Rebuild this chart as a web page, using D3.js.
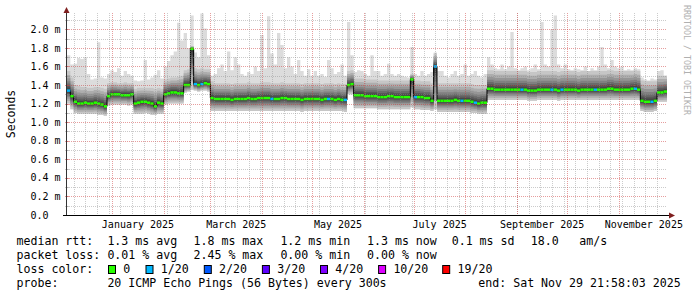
<!DOCTYPE html>
<html>
<head>
<meta charset="utf-8">
<script src="https://cdn.jsdelivr.net/npm/d3@7"></script>
<style>
  body { margin: 0; background: #fff; }
  text { font-family: "DejaVu Sans Mono", monospace; }
</style>
</head>
<body>
<svg id="chart" width="697" height="297"></svg>
<script>
// graph window: last 360 days, one value every 2 days
const endTime = new Date(2025, 10, 29, 21, 58, 3);
const spanDays = 360;
const stepDays = 2;

// median rtt per step (ms)
const medianMs = [
  1.34,1.28,1.22,1.20,1.20,1.21,1.20,1.20,1.21,1.20,
  1.19,1.17,1.28,1.30,1.30,1.30,1.29,1.29,1.29,1.30,
  1.20,1.21,1.22,1.22,1.21,1.20,1.17,1.21,1.20,1.30,
  1.31,1.32,1.32,1.31,1.31,1.40,1.40,1.79,1.41,1.40,
  1.41,1.42,1.41,1.26,1.25,1.25,1.25,1.25,1.25,1.24,
  1.25,1.25,1.25,1.25,1.26,1.25,1.25,1.26,1.26,1.26,
  1.26,1.25,1.25,1.25,1.26,1.26,1.25,1.25,1.25,1.25,
  1.24,1.25,1.25,1.25,1.25,1.25,1.24,1.25,1.25,1.25,
  1.24,1.25,1.24,1.24,1.40,1.41,1.29,1.29,1.29,1.28,
  1.28,1.28,1.28,1.27,1.27,1.27,1.28,1.28,1.27,1.27,
  1.27,1.27,1.27,1.46,1.27,1.27,1.27,1.26,1.26,1.23,
  1.60,1.23,1.23,1.23,1.23,1.23,1.24,1.23,1.23,1.23,
  1.23,1.22,1.21,1.20,1.21,1.21,1.36,1.36,1.35,1.35,
  1.35,1.35,1.35,1.35,1.35,1.35,1.35,1.35,1.34,1.34,
  1.34,1.35,1.35,1.35,1.35,1.35,1.35,1.34,1.35,1.35,
  1.35,1.35,1.35,1.34,1.35,1.35,1.35,1.35,1.35,1.35,
  1.35,1.35,1.36,1.36,1.35,1.35,1.35,1.35,1.35,1.36,
  1.36,1.35,1.23,1.22,1.22,1.22,1.23,1.32,1.32,1.33
];

// lower edge of the smoke (ms)
const smokeLowMs = [
  1.20,1.14,1.10,1.09,1.09,1.09,1.09,1.09,1.09,1.08,
  1.08,1.07,1.18,1.19,1.19,1.19,1.19,1.19,1.18,1.19,
  1.09,1.09,1.09,1.10,1.09,1.08,1.08,1.09,1.09,1.19,
  1.20,1.20,1.20,1.20,1.20,1.32,1.33,1.35,1.34,1.33,
  1.34,1.34,1.33,1.12,1.12,1.12,1.12,1.12,1.12,1.12,
  1.12,1.12,1.12,1.12,1.12,1.12,1.12,1.12,1.12,1.12,
  1.12,1.12,1.12,1.12,1.12,1.12,1.12,1.12,1.12,1.12,
  1.11,1.12,1.12,1.12,1.12,1.12,1.12,1.12,1.12,1.12,
  1.12,1.12,1.12,1.11,1.30,1.30,1.15,1.15,1.15,1.15,
  1.15,1.15,1.15,1.14,1.14,1.14,1.14,1.14,1.14,1.14,
  1.14,1.14,1.14,1.16,1.14,1.14,1.13,1.13,1.13,1.12,
  1.14,1.11,1.11,1.11,1.11,1.11,1.11,1.11,1.11,1.11,
  1.11,1.10,1.10,1.09,1.09,1.09,1.24,1.24,1.24,1.24,
  1.24,1.24,1.24,1.24,1.24,1.24,1.24,1.24,1.23,1.23,
  1.23,1.24,1.24,1.24,1.24,1.24,1.24,1.23,1.24,1.24,
  1.24,1.24,1.24,1.24,1.24,1.24,1.24,1.24,1.24,1.24,
  1.24,1.24,1.24,1.24,1.24,1.24,1.24,1.24,1.24,1.24,
  1.24,1.24,1.12,1.11,1.11,1.11,1.12,1.22,1.22,1.22
];

// upper edge of the dense smoke (ms)
const smokeHighMs = [
  1.55,1.48,1.40,1.39,1.38,1.38,1.37,1.37,1.38,1.38,
  1.37,1.36,1.42,1.43,1.43,1.42,1.42,1.43,1.42,1.42,
  1.36,1.37,1.37,1.37,1.37,1.37,1.36,1.37,1.36,1.46,
  1.47,1.48,1.48,1.49,1.50,1.56,1.57,1.82,1.58,1.57,
  1.58,1.57,1.57,1.44,1.42,1.42,1.42,1.42,1.42,1.41,
  1.42,1.42,1.42,1.42,1.43,1.42,1.42,1.42,1.43,1.43,
  1.43,1.42,1.42,1.42,1.43,1.42,1.42,1.42,1.42,1.42,
  1.41,1.42,1.42,1.42,1.42,1.42,1.41,1.42,1.42,1.42,
  1.41,1.42,1.41,1.41,1.55,1.56,1.47,1.47,1.47,1.46,
  1.46,1.46,1.46,1.45,1.45,1.45,1.45,1.45,1.45,1.45,
  1.45,1.45,1.45,1.52,1.45,1.45,1.44,1.44,1.44,1.42,
  1.74,1.42,1.42,1.42,1.42,1.42,1.42,1.42,1.42,1.42,
  1.42,1.41,1.40,1.40,1.40,1.40,1.56,1.56,1.55,1.55,
  1.55,1.55,1.55,1.55,1.55,1.55,1.55,1.55,1.54,1.54,
  1.54,1.55,1.55,1.55,1.55,1.55,1.55,1.54,1.55,1.55,
  1.55,1.55,1.55,1.54,1.55,1.55,1.55,1.55,1.55,1.55,
  1.55,1.55,1.56,1.56,1.55,1.55,1.55,1.55,1.55,1.55,
  1.56,1.55,1.45,1.44,1.44,1.44,1.44,1.50,1.50,1.50
];

// slowest ping per step (ms)
const maxPingMs = [
  1.72,1.62,1.63,1.69,1.68,1.70,1.52,1.46,1.47,1.86,
  1.48,1.47,1.52,1.56,1.54,1.58,1.50,1.55,1.52,1.50,
  1.45,1.44,1.45,1.67,1.46,1.48,1.51,1.56,1.47,1.60,
  1.66,1.72,1.76,2.07,1.88,1.96,1.80,2.15,1.75,1.70,
  2.17,2.01,1.72,1.50,1.52,1.58,1.62,1.55,1.76,1.56,
  1.70,1.62,1.52,1.50,1.54,1.52,1.60,1.55,1.94,1.58,
  2.14,1.74,1.62,1.96,1.83,1.58,1.70,1.60,1.52,1.67,
  1.55,1.50,1.57,1.50,1.55,1.50,1.52,1.49,1.67,1.58,
  1.52,1.54,1.62,1.50,2.08,1.72,1.54,1.56,1.55,1.52,
  1.50,1.72,1.55,1.55,1.50,1.52,1.63,1.52,1.50,1.52,
  1.50,1.49,1.48,1.81,1.52,1.50,1.55,1.50,1.52,1.54,
  1.75,1.55,1.55,1.50,1.48,1.52,1.55,1.50,1.52,1.62,
  1.50,1.52,1.55,1.50,1.48,1.52,1.70,1.62,1.58,1.57,
  1.62,1.57,1.60,1.97,1.58,1.56,1.58,1.60,1.56,1.58,
  1.62,1.57,2.08,1.62,1.60,2.00,2.15,1.62,1.58,1.62,
  1.57,1.56,1.58,1.57,1.56,1.60,1.55,1.58,1.56,1.60,
  1.81,1.62,1.58,1.67,1.60,1.58,1.60,1.56,1.57,1.56,
  1.58,1.57,1.48,1.46,1.45,1.47,1.46,1.55,1.56,1.50
];

// lost pings out of 20 per step
const lossPings = [
  1,0,0,0,0,0,0,0,0,0,
  0,0,0,0,0,0,0,0,0,0,
  0,0,0,0,0,0,0,0,0,0,
  0,0,0,0,0,0,0,0,1,0,
  1,0,0,0,0,0,0,0,0,0,
  0,0,0,0,0,0,0,0,0,0,
  0,1,0,0,0,0,0,0,0,0,
  0,0,0,0,0,0,0,0,1,0,
  0,0,0,1,0,0,0,0,0,0,
  0,0,0,0,0,0,0,0,0,0,
  0,0,0,0,1,0,0,0,0,0,
  1,0,0,0,0,0,0,0,1,0,
  0,0,1,0,0,0,0,0,0,0,
  0,0,0,0,0,0,1,0,0,0,
  0,0,0,0,0,1,0,0,1,0,
  0,0,0,0,0,0,0,0,1,0,
  0,0,0,0,0,0,0,0,0,0,
  1,0,0,0,0,1,0,0,0,0
];

const lossThresholds = [0, 1, 2, 3, 4, 10, 19];
const lossLabels = ["0", "1/20", "2/20", "3/20", "4/20", "10/20", "19/20"];
const lossColors = ["#26ff00", "#00b8ff", "#0059ff", "#5e00ff", "#7e00ff", "#dd00ff", "#ff0000"];

const yTicksMs = [0, 0.2, 0.4, 0.6, 0.8, 1.0, 1.2, 1.4, 1.6, 1.8, 2.0];

const legendRows = [
  ["median rtt:", "1.3 ms avg", "1.8 ms max", "1.2 ms min", "1.3 ms now", "0.1 ms sd", "18.0", "am/s"],
  ["packet loss:", "0.01 % avg", "2.45 % max", "0.00 % min", "0.00 % now"],
  ["loss color:"],
  ["probe:", "20 ICMP Echo Pings (56 Bytes) every 300s", "end: Sat Nov 29 21:58:03 2025"]
];

// ---- layout ----
const plot = { left: 67, right: 667, top: 13, bottom: 215 };
const yMaxMs = 2.176;
const svg = d3.select("#chart");

const startTime = d3.timeDay.offset(endTime, -spanDays);
const x = d3.scaleTime().domain([startTime, endTime]).range([plot.left, plot.right]);
const y = d3.scaleLinear().domain([0, yMaxMs]).range([plot.bottom, plot.top]);

const lossColor = n => lossColors[d3.bisectRight(lossThresholds, n) - 1];

const steps = medianMs.map((m, i) => ({
  t0: d3.timeDay.offset(startTime, i * stepDays),
  t1: d3.timeDay.offset(startTime, (i + 1) * stepDays),
  med: m,
  lo: smokeLowMs[i],
  hi: smokeHighMs[i],
  max: maxPingMs[i],
  loss: lossPings[i]
}));
// extra point so step areas reach the right edge
const pts = steps.map(s => ({ t: s.t0, ...s }));
pts.push({ ...steps[steps.length - 1], t: endTime });

const dataG = svg.append("g");

// light spikes: top of smoke up to slowest ping
dataG.append("path")
  .attr("d", d3.area().curve(d3.curveStepAfter)
    .x(d => x(d.t)).y0(d => y(d.lo)).y1(d => y(d.max))(pts))
  .attr("fill", "#dcdcdc");

// smoke bands, outer (light) to inner (dark)
const bandFrac = [1, 0.8, 0.63, 0.48, 0.36, 0.25, 0.16, 0.08];
const bandGrey = ["#c6c6c6", "#adadad", "#969696", "#808080", "#6b6b6b", "#585858", "#474747", "#3a3a3a"];
bandFrac.forEach((f, k) => {
  dataG.append("path")
    .attr("d", d3.area().curve(d3.curveStepAfter)
      .x(d => x(d.t))
      .y0(d => y(d.med - (d.med - d.lo) * f))
      .y1(d => y(d.med + (d.hi - d.med) * f))(pts))
    .attr("fill", bandGrey[k]);
});

// median: black connectors, coloured by loss
dataG.append("path")
  .attr("d", d3.line().curve(d3.curveStepAfter).x(d => x(d.t)).y(d => y(d.med))(pts))
  .attr("fill", "none")
  .attr("stroke", "#000")
  .attr("stroke-width", 1);

dataG.selectAll("line.med")
  .data(steps)
  .join("line")
  .attr("class", "med")
  .attr("x1", d => x(d.t0))
  .attr("x2", d => x(d.t1))
  .attr("y1", d => y(d.med))
  .attr("y2", d => y(d.med))
  .attr("stroke", d => lossColor(d.loss))
  .attr("stroke-width", 2.5);

// ---- grid (drawn over the data like rrdtool) ----
const gridG = svg.append("g").attr("shape-rendering", "crispEdges");
const minorCol = "rgba(140,140,140,0.45)";
const majorCol = "rgba(205,60,60,0.5)";

d3.range(1, 22).forEach(k => {
  const v = k / 10;
  if (v > yMaxMs) return;
  const yy = Math.round(y(v)) + 0.5;
  gridG.append("line")
    .attr("x1", plot.left).attr("x2", plot.right)
    .attr("y1", yy).attr("y2", yy)
    .attr("stroke", k % 2 === 0 ? majorCol : minorCol)
    .attr("stroke-dasharray", "1,1");
  gridG.append("line")
    .attr("x1", plot.left - 2).attr("x2", plot.left + 2)
    .attr("y1", yy).attr("y2", yy)
    .attr("stroke", k % 2 === 0 ? majorCol : minorCol);
});

const weeks = d3.timeMonday.range(startTime, endTime);
const months = d3.timeMonth.range(startTime, endTime);
weeks.forEach(w => {
  const xx = Math.round(x(w)) + 0.5;
  gridG.append("line")
    .attr("x1", xx).attr("x2", xx)
    .attr("y1", plot.top).attr("y2", plot.bottom + 2)
    .attr("stroke", minorCol)
    .attr("stroke-dasharray", "1,1");
});
months.forEach(m => {
  const xx = Math.round(x(m)) + 0.5;
  gridG.append("line")
    .attr("x1", xx).attr("x2", xx)
    .attr("y1", plot.top).attr("y2", plot.bottom + 2)
    .attr("stroke", majorCol)
    .attr("stroke-dasharray", "1,1");
});

// ---- axes ----
const axisG = svg.append("g").attr("shape-rendering", "crispEdges");
axisG.append("line")
  .attr("x1", plot.left - 0.5).attr("x2", plot.left - 0.5)
  .attr("y1", plot.bottom).attr("y2", 9)
  .attr("stroke", "#333");
axisG.append("line")
  .attr("x1", plot.left - 4).attr("x2", plot.right + 3)
  .attr("y1", plot.bottom + 0.5).attr("y2", plot.bottom + 0.5)
  .attr("stroke", "#000");

const arrowCol = "#7f1f1f";
svg.append("path").attr("d", "M63.5,13 L69.5,13 L66.5,7 Z").attr("fill", arrowCol);
svg.append("path").attr("d", "M669,212.5 L669,218.5 L675,215.5 Z").attr("fill", arrowCol);

// y tick labels
svg.append("g").selectAll("text")
  .data(yTicksMs)
  .join("text")
  .attr("x", 30.5)
  .attr("y", d => y(d))
  .attr("dy", "0.36em")
  .attr("font-size", 10)
  .attr("fill", "#000")
  .text(d => d === 0 ? "0.0" : `${d3.format(".1f")(d)} m`);

// x labels: every other month, centred on the month
const fmtMonth = d3.timeFormat("%B %Y");
svg.append("g").selectAll("text")
  .data(d3.timeMonth.every(2).range(startTime, endTime))
  .join("text")
  .attr("x", d => (x(d) + x(d3.timeMonth.offset(d, 1))) / 2)
  .attr("y", 228)
  .attr("text-anchor", "middle")
  .attr("font-size", 10)
  .attr("fill", "#000")
  .text(d => fmtMonth(d));

// axis title
svg.append("text")
  .attr("transform", "translate(11,114) rotate(-90)")
  .attr("text-anchor", "middle")
  .attr("dominant-baseline", "central")
  .attr("font-size", 11.5)
  .text("Seconds");

// watermark
svg.append("text")
  .attr("transform", "translate(687,60) rotate(90)")
  .attr("text-anchor", "middle")
  .attr("dominant-baseline", "central")
  .attr("font-size", 8.3)
  .attr("fill", "#b0b0b0")
  .text("RRDTOOL / TOBI OETIKER");

// ---- legend ----
const rowY = [245, 259, 273, 287];
const colX = [
  [16.5, 107.4, 193.5, 280.4, 367, 451.7, 530.7, 579.3],
  [16.5, 107.4, 193.5, 280.4, 367],
  [16.5],
  [16.5, 107.4, 478.3]
];
const legendG = svg.append("g").attr("font-size", 11.6).attr("fill", "#000");
legendRows.forEach((row, r) => {
  row.forEach((s, c) => {
    legendG.append("text")
      .attr("x", colX[r][c])
      .attr("y", rowY[r])
      .attr("xml:space", "preserve")
      .text(s);
  });
});

const swatchX = [108.5, 146, 204.3, 262.4, 320.5, 378.6, 442.7];
lossLabels.forEach((lab, i) => {
  legendG.append("rect")
    .attr("x", swatchX[i]).attr("y", 265.5)
    .attr("width", 7).attr("height", 8)
    .attr("fill", lossColors[i])
    .attr("stroke", "#000")
    .attr("stroke-width", 1);
  legendG.append("text")
    .attr("x", swatchX[i] + 14.8)
    .attr("y", rowY[2])
    .text(lab);
});
</script>
</body>
</html>
